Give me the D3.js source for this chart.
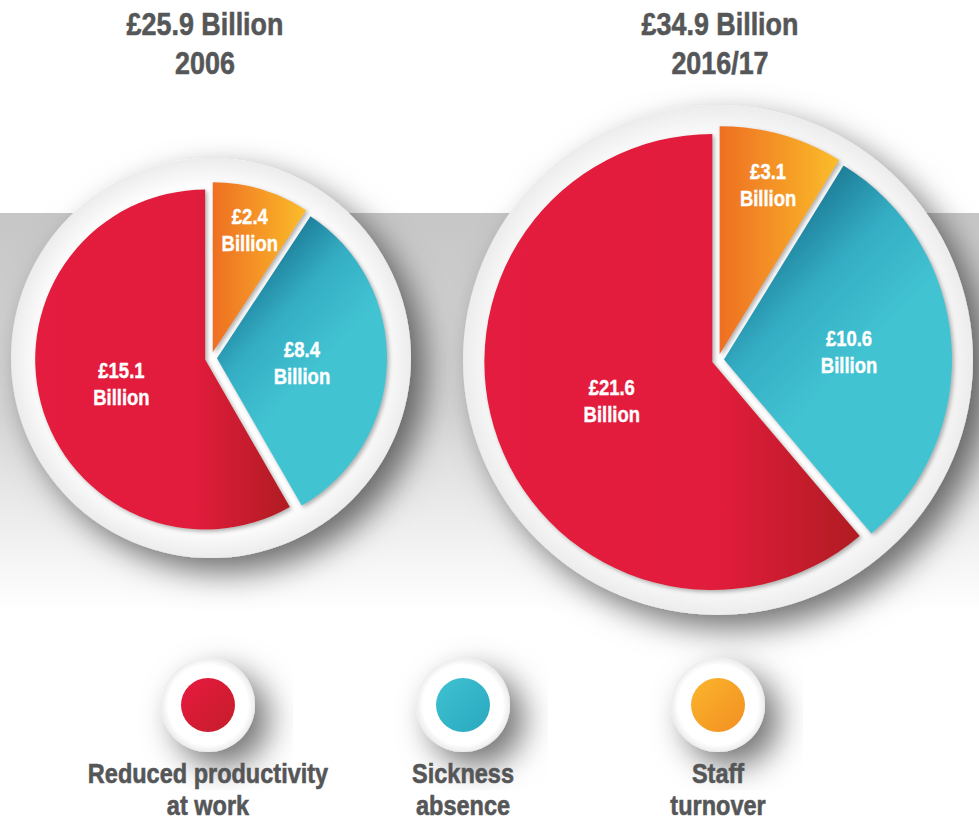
<!DOCTYPE html>
<html>
<head>
<meta charset="utf-8">
<script src="https://cdn.jsdelivr.net/npm/d3@7"></script>
<style>
  body { margin: 0; background: #fff; }
  text { font-family: "Liberation Sans", Arial, sans-serif; font-weight: bold; }
</style>
</head>
<body>
<div id="chart"></div>
<script>
// data
const years = ["2006", "2016/17"];
const totals = [25.9, 34.9];
const categories = ["Reduced productivity at work", "Sickness absence", "Staff turnover"];
const legendLines = [["Reduced productivity", "at work"], ["Sickness", "absence"], ["Staff", "turnover"]];
const values2006 = [15.1, 8.4, 2.4];
const values2016 = [21.6, 10.6, 3.1];
const seriesValues = [values2006, values2016];
// clockwise draw order starting at 12 o'clock: staff turnover, sickness, productivity
const drawOrder = [2, 1, 0];

const W = 979, H = 821;
const textGrey = "#555658";
const squeeze = 0.84; // no condensed font installed, so narrow the glyphs by hand

const svg = d3.select("#chart").append("svg")
    .attr("width", W)
    .attr("height", H);

const defs = svg.append("defs");

// gradients for the three categories
const red = defs.append("linearGradient").attr("id", "g0")
    .attr("x1", "0%").attr("y1", "0%").attr("x2", "100%").attr("y2", "0%");
red.append("stop").attr("offset", "0%").attr("stop-color", "#e41b3f");
red.append("stop").attr("offset", "62%").attr("stop-color", "#e21c3c");
red.append("stop").attr("offset", "100%").attr("stop-color", "#b01d22");

const teal = defs.append("linearGradient").attr("id", "g1")
    .attr("x1", "20%").attr("y1", "0%").attr("x2", "55%").attr("y2", "55%");
teal.append("stop").attr("offset", "0%").attr("stop-color", "#0d5878");
teal.append("stop").attr("offset", "60%").attr("stop-color", "#34aec4");
teal.append("stop").attr("offset", "100%").attr("stop-color", "#42c3d2");

const orange = defs.append("linearGradient").attr("id", "g2")
    .attr("x1", "0%").attr("y1", "0%").attr("x2", "100%").attr("y2", "0%");
orange.append("stop").attr("offset", "0%").attr("stop-color", "#ee6f23");
orange.append("stop").attr("offset", "100%").attr("stop-color", "#fbbd2a");

// legend dots
const dotColors = [["#e8193f", "#c41e2a"], ["#3ec2d1", "#2aa8bf"], ["#fbb52b", "#f28f23"]];
dotColors.forEach((c, i) => {
    const g = defs.append("linearGradient").attr("id", "d" + i)
        .attr("x1", "0%").attr("y1", "0%").attr("x2", "100%").attr("y2", "100%");
    g.append("stop").attr("offset", "0%").attr("stop-color", c[0]);
    g.append("stop").attr("offset", "100%").attr("stop-color", c[1]);
});

const band = defs.append("linearGradient").attr("id", "band")
    .attr("x1", "0%").attr("y1", "0%").attr("x2", "0%").attr("y2", "100%");
band.append("stop").attr("offset", "0%").attr("stop-color", "#c6c6c6");
band.append("stop").attr("offset", "50%").attr("stop-color", "#d6d6d6");
band.append("stop").attr("offset", "85%").attr("stop-color", "#f4f4f4");
band.append("stop").attr("offset", "100%").attr("stop-color", "#ffffff");

const disc = defs.append("radialGradient").attr("id", "disc");
disc.append("stop").attr("offset", "85%").attr("stop-color", "#ffffff");
disc.append("stop").attr("offset", "100%").attr("stop-color", "#ececec");

const shadow = defs.append("filter").attr("id", "shadow")
    .attr("x", "-30%").attr("y", "-30%").attr("width", "170%").attr("height", "170%");
shadow.append("feDropShadow")
    .attr("dx", 14).attr("dy", 14).attr("stdDeviation", 16)
    .attr("flood-color", "#000").attr("flood-opacity", 0.55);

const sliceShadow = defs.append("filter").attr("id", "sliceShadow")
    .attr("x", "-20%").attr("y", "-20%").attr("width", "140%").attr("height", "140%");
sliceShadow.append("feDropShadow")
    .attr("dx", 2).attr("dy", 2).attr("stdDeviation", 2)
    .attr("flood-color", "#777").attr("flood-opacity", 0.6);

// grey band behind the pies
svg.append("rect")
    .attr("x", 0).attr("y", 213)
    .attr("width", W).attr("height", 400)
    .attr("fill", "url(#band)");

// pie layout
const pies = [
    { cx: 211, cy: 358, r: 170, discR: 200, titleX: 205 },
    { cx: 718, cy: 360, r: 228, discR: 255, titleX: 720 }
];
const labelFactor = [[0.51, 0.50, 0.76], [0.47, 0.55, 0.78]];
const explode = 6;

const fmt = d3.format(".1f");

pies.forEach((p, k) => {
    const vals = seriesValues[k];
    const arcs = d3.pie().sort(null).startAngle(0).endAngle(2 * Math.PI)
        .value(i => vals[i])(drawOrder);
    const arc = d3.arc().innerRadius(0).outerRadius(p.r);

    const g = svg.append("g").attr("transform", `translate(${p.cx},${p.cy})`);

    g.append("circle")
        .attr("r", p.discR)
        .attr("fill", "url(#disc)")
        .attr("filter", "url(#shadow)");

    const slices = g.selectAll(".slice")
        .data(arcs)
        .enter()
        .append("g")
        .attr("class", "slice")
        .attr("transform", d => {
            const mid = (d.startAngle + d.endAngle) / 2;
            return `translate(${Math.sin(mid) * explode},${-Math.cos(mid) * explode})`;
        });

    slices.append("path")
        .attr("d", arc)
        .attr("fill", d => `url(#g${d.data})`)
        .attr("filter", "url(#sliceShadow)");

    slices.append("text")
        .attr("text-anchor", "middle")
        .attr("fill", "#fff")
        .attr("stroke", "#fff")
        .attr("stroke-width", 0.4)
        .style("font-size", "22px")
        .attr("transform", d => {
            const mid = (d.startAngle + d.endAngle) / 2;
            const lr = p.r * labelFactor[k][d.data];
            return `translate(${Math.sin(mid) * lr},${-Math.cos(mid) * lr}) scale(${squeeze},1)`;
        })
        .each(function (d) {
            const t = d3.select(this);
            t.append("tspan").attr("x", 0).attr("y", -4).text("£" + fmt(vals[d.data]));
            t.append("tspan").attr("x", 0).attr("y", 23).text("Billion");
        });

    // title
    const title = svg.append("text")
        .attr("text-anchor", "middle")
        .attr("fill", textGrey)
        .attr("stroke", textGrey)
        .attr("stroke-width", 0.6)
        .style("font-size", "32px")
        .attr("transform", `translate(${p.titleX},0) scale(${squeeze},1)`);
    title.append("tspan").attr("x", 0).attr("y", 35).text("£" + fmt(totals[k]) + " Billion");
    title.append("tspan").attr("x", 0).attr("y", 74).text(years[k]);
});

// legend
const legendX = d3.scalePoint().domain(categories).range([208, 718]);
const legend = svg.selectAll(".legend")
    .data(categories)
    .enter()
    .append("g")
    .attr("class", "legend")
    .attr("transform", d => `translate(${legendX(d)},705)`);

legend.append("circle")
    .attr("r", 47)
    .attr("fill", "url(#disc)")
    .attr("filter", "url(#shadow)");

legend.append("circle")
    .attr("r", 27)
    .attr("fill", (d, i) => `url(#d${i})`);

legend.append("text")
    .attr("text-anchor", "middle")
    .attr("fill", textGrey)
    .attr("stroke", textGrey)
    .attr("stroke-width", 0.6)
    .style("font-size", "28px")
    .attr("transform", `scale(${squeeze},1)`)
    .each(function (d, i) {
        const t = d3.select(this);
        legendLines[i].forEach((line, j) => {
            t.append("tspan").attr("x", 0).attr("y", 78 + j * 32).text(line);
        });
    });
</script>
</body>
</html>
